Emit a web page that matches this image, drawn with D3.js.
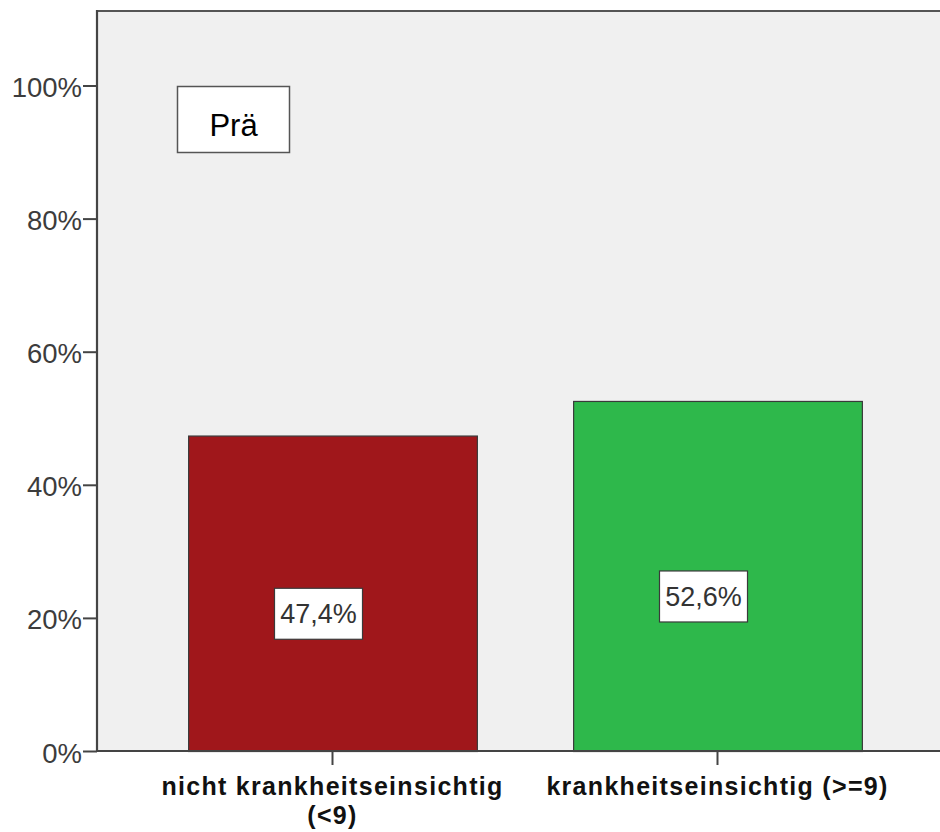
<!DOCTYPE html>
<html>
<head>
<meta charset="utf-8">
<script src="https://cdn.jsdelivr.net/npm/d3@7"></script>
<style>
  html, body { margin: 0; padding: 0; background: #ffffff; }
  svg { display: block; }
</style>
</head>
<body>
<svg id="chart" width="940" height="832"></svg>
<script>
// ---- data ----
const categories = ["nicht krankheitseinsichtig (<9)", "krankheitseinsichtig (>=9)"];
const categoryLines = [["nicht krankheitseinsichtig", "(<9)"], ["krankheitseinsichtig (>=9)"]];
const values = [47.4, 52.6];
const valueLabels = ["47,4%", "52,6%"];
const barColors = ["#A0171B", "#2EB84B"];
const yTicks = [0, 20, 40, 60, 80, 100];
const panelLabel = "Prä";

// ---- layout ----
const svg = d3.select("#chart");
const plot = { left: 97, right: 942, top: 11, bottom: 751 };

const y = d3.scaleLinear().domain([0, 100]).range([751, 85.5]);
const x = d3.scaleBand().domain(categories).range([140, 910])
  .paddingInner(0.25).paddingOuter(0.125);

// background
svg.append("rect")
  .attr("x", plot.left).attr("y", plot.top)
  .attr("width", plot.right - plot.left).attr("height", plot.bottom - plot.top)
  .attr("fill", "#F0F0F0");

// bars
svg.selectAll("rect.bar").data(values).enter().append("rect")
  .attr("class", "bar")
  .attr("x", (d, i) => x(categories[i]) + 0.5)
  .attr("y", d => y(d) + 0.5)
  .attr("width", x.bandwidth())
  .attr("height", d => y(0) - y(d))
  .attr("fill", (d, i) => barColors[i])
  .attr("stroke", "#3a3a3a")
  .attr("stroke-width", 1.2);

// frame lines
svg.append("line").attr("x1", plot.left).attr("x2", plot.right)
  .attr("y1", plot.top).attr("y2", plot.top)
  .attr("stroke", "#555").attr("stroke-width", 2);

// y axis
const yAxis = d3.axisLeft(y).tickValues(yTicks).tickFormat(d => d + "%")
  .tickSize(14).tickPadding(1);
const gy = svg.append("g").attr("transform", `translate(${plot.left},0)`).call(yAxis);
gy.select(".domain").remove();
gy.selectAll(".tick line").attr("stroke", "#444").attr("stroke-width", 2);
gy.selectAll(".tick text")
  .attr("font-family", "Liberation Sans, Arial, sans-serif")
  .attr("font-size", 27.5).attr("fill", "#3c3c3c")
  .attr("dy", "0.4em");
svg.append("line").attr("x1", plot.left).attr("x2", plot.left)
  .attr("y1", plot.top - 1).attr("y2", plot.bottom + 1)
  .attr("stroke", "#444").attr("stroke-width", 2.2);

// x axis
const xAxis = d3.axisBottom(x).tickSize(14).tickFormat("");
const gx = svg.append("g").attr("transform", `translate(0,${plot.bottom})`).call(xAxis);
gx.select(".domain").remove();
gx.selectAll(".tick line").attr("stroke", "#444").attr("stroke-width", 2);
svg.append("line").attr("x1", plot.left).attr("x2", plot.right)
  .attr("y1", plot.bottom).attr("y2", plot.bottom)
  .attr("stroke", "#444").attr("stroke-width", 2);

// category labels (one text element per line)
categories.forEach((c, i) => {
  categoryLines[i].forEach((line, j) => {
    svg.append("text")
      .attr("x", x(c) + x.bandwidth() / 2)
      .attr("y", 795 + j * 28.5)
      .attr("text-anchor", "middle")
      .attr("font-family", "Liberation Sans, Arial, sans-serif")
      .attr("font-weight", "bold")
      .attr("font-size", 25)
      .attr("letter-spacing", 1.3)
      .attr("fill", "#111")
      .text(line);
  });
});

// value labels
values.forEach((v, i) => {
  const cx = x(categories[i]) + x.bandwidth() / 2 - 14;
  const cy = y(v / 2) + 21;
  const g = svg.append("g");
  g.append("rect")
    .attr("x", cx - 44).attr("y", cy - 26)
    .attr("width", 88).attr("height", 51)
    .attr("fill", "#fff").attr("stroke", "#3a3a3a").attr("stroke-width", 1.2);
  g.append("text")
    .attr("x", cx).attr("y", cy)
    .attr("text-anchor", "middle").attr("dominant-baseline", "central")
    .attr("font-family", "Liberation Sans, Arial, sans-serif")
    .attr("font-size", 27).attr("fill", "#333")
    .text(valueLabels[i]);
});

// panel label box
svg.append("rect")
  .attr("x", 177.5).attr("y", 86.5).attr("width", 112).attr("height", 66)
  .attr("fill", "#fff").attr("stroke", "#555").attr("stroke-width", 1.5);
svg.append("text")
  .attr("x", 233.5).attr("y", 136)
  .attr("text-anchor", "middle")
  .attr("font-family", "Liberation Sans, Arial, sans-serif")
  .attr("font-size", 31).attr("fill", "#000")
  .text(panelLabel);
</script>
</body>
</html>
